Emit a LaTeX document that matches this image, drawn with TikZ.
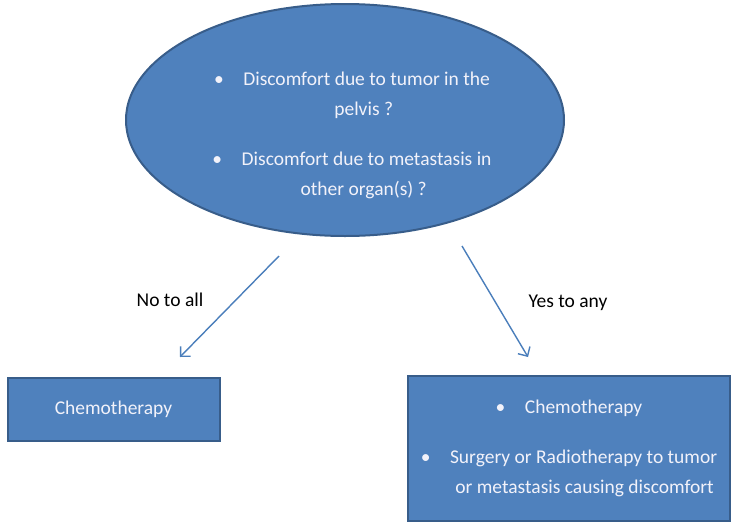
\documentclass[tikz,border=0pt]{standalone}
\usepackage{fontspec}
\setmainfont{Carlito}
\usetikzlibrary{shapes.geometric,arrows.meta}
\definecolor{boxfill}{RGB}{79,129,189}
\definecolor{boxline}{RGB}{56,93,138}
\definecolor{arrowcolor}{RGB}{74,126,187}
\definecolor{boxtext}{RGB}{242,242,250}

\begin{document}
\begin{tikzpicture}[%
    x=1pt, y=-1pt,              % one unit per pixel, y downwards
    every node/.style={font=\fontsize{19.5}{30}\selectfont},
    ]
\tikzset{
  base/.style={draw=boxline, line width=2pt, fill=boxfill, text=boxtext, inner sep=0pt},
  question/.style={base, ellipse, minimum width=438, minimum height=232},
  answer/.style={base, rectangle, align=center},
  caption/.style={text=boxtext, align=center},
  decision/.style={draw=arrowcolor, line width=1.4pt, -{Straight Barb[length=7pt,width=14pt]}},
}
\useasboundingbox (0,0) rectangle (732,523);

\node [question] (q) at (345,120) {};
\node [caption] (qtext) at (352,135)
  {\textbullet\quad Discomfort due to tumor in the\\
   \hspace*{1.2em}pelvis ?\\[20pt]
   \textbullet\quad Discomfort due to metastasis in\\
   \hspace*{1.2em}other organ(s) ?};

\node [answer, minimum width=212, minimum height=63] (chemo) at (113.5,409) {Chemotherapy};
\node [answer, minimum width=322, minimum height=145] (treat) at (569,448.5)
  {\textbullet\quad Chemotherapy\\[20pt]
   \textbullet\quad Surgery or Radiotherapy to tumor\\
   \hspace*{1.6em}or metastasis causing discomfort};

\coordinate (noStart) at (279,256);
\coordinate (noEnd) at (180,357);
\coordinate (yesStart) at (462,246);
\coordinate (yesEnd) at (528,357);

\node (noLabel) at (170,300) {No to all};
\node (yesLabel) at (568,303) {Yes to any};

%connect
\draw [decision] (noStart) -- (noEnd);
\draw [decision] (yesStart) -- (yesEnd);

\end{tikzpicture}
\end{document}
